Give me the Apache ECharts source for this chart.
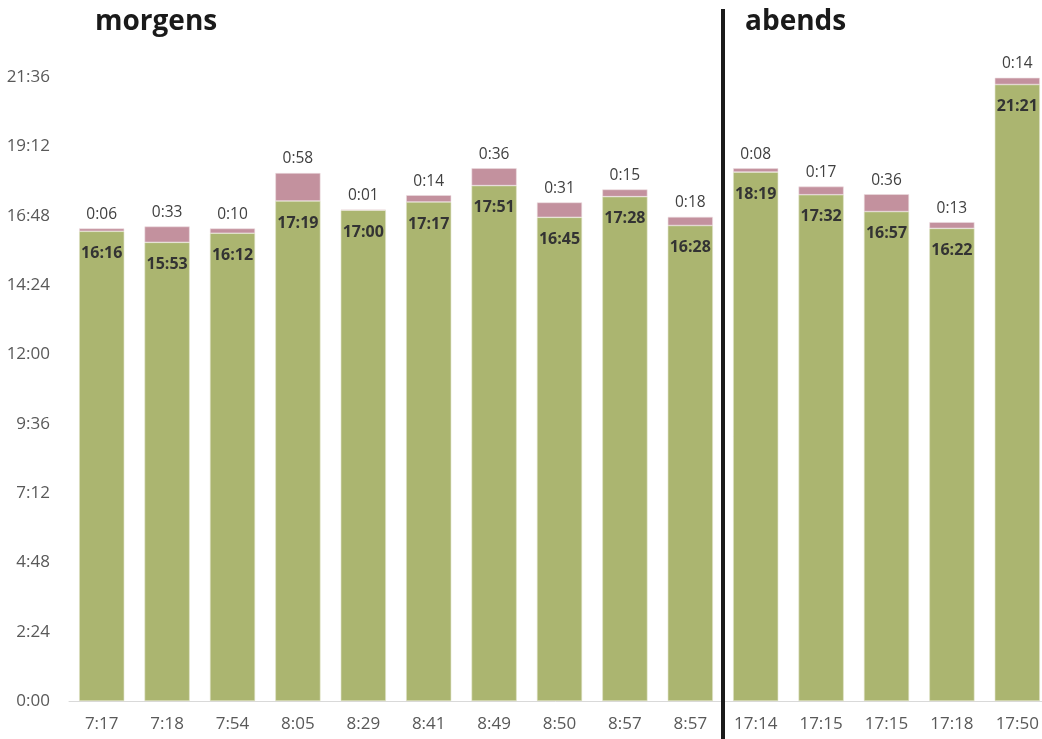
<!DOCTYPE html>
<html>
<head>
<meta charset="utf-8">
<script src="https://cdn.jsdelivr.net/npm/echarts@6/dist/echarts.min.js"></script>
<style>
  html, body { margin: 0; padding: 0; background: #fff; }
  #chart { width: 1042px; height: 739px; }
</style>
</head>
<body>
<div id="chart"></div>
<script>
// departure times (x axis)
const categories = ['7:17', '7:18', '7:54', '8:05', '8:29', '8:41', '8:49', '8:50', '8:57', '8:57',
                    '17:14', '17:15', '17:15', '17:18', '17:50']
// base duration (green) and extra (pink), as m:ss
const baseTimes  = ['16:16', '15:53', '16:12', '17:19', '17:00', '17:17', '17:51', '16:45', '17:28', '16:28',
                    '18:19', '17:32', '16:57', '16:22', '21:21']
const extraTimes = ['0:06', '0:33', '0:10', '0:58', '0:01', '0:14', '0:36', '0:31', '0:15', '0:18',
                    '0:08', '0:17', '0:36', '0:13', '0:14']
const morningCount = 10

const toSec = (s) => { const [m, ss] = s.split(':').map(Number); return m * 60 + ss }
const fmt = (v) => Math.floor(v / 60) + ':' + String(Math.round(v % 60)).padStart(2, '0')

const base = baseTimes.map(toSec)
const extra = extraTimes.map(toSec)

const green = '#abb570', pink = '#c3919e'
const font = 'Open Sans, sans-serif'

const chart = echarts.init(document.getElementById('chart'), null, { renderer: 'canvas' })
chart.setOption({
  animation: false,
  textStyle: { fontFamily: font },
  title: [
    { text: 'morgens', left: 90, top: 3, textStyle: { fontFamily: font, fontSize: 28, fontWeight: 'bold', color: '#1a1a1a' } },
    { text: 'abends', left: 740, top: 3, textStyle: { fontFamily: font, fontSize: 28, fontWeight: 'bold', color: '#1a1a1a' } },
  ],
  // plot runs a little past the right edge of the canvas, like the original crop
  grid: { left: 69, width: 981, top: 8, bottom: 38, outerBoundsMode: 'none' },
  xAxis: {
    type: 'category', data: categories,
    axisLine: { lineStyle: { color: '#d9d9d9', width: 1 } },
    axisTick: { show: false },
    axisLabel: { color: '#595959', fontSize: 17, margin: 15, fontFamily: font },
  },
  yAxis: {
    type: 'value', min: 0, max: 1440, interval: 144,
    axisLine: { show: false }, axisTick: { show: false }, splitLine: { show: false },
    axisLabel: { color: '#595959', fontSize: 17, margin: 19, fontFamily: font, showMaxLabel: false, formatter: fmt },
  },
  series: [
    {
      name: 'base', type: 'bar', stack: 't', data: base, barWidth: '69%',
      itemStyle: { color: green, borderColor: '#dfe3c6', borderWidth: 0.6 },
      label: { show: true, position: 'insideTop', distance: 14, color: '#333', fontWeight: 'bold', fontSize: 16,
        fontFamily: font, formatter: (p) => fmt(p.value) },
    },
    {
      name: 'extra', type: 'bar', stack: 't', data: extra, barWidth: '69%',
      itemStyle: { color: pink, borderColor: '#ecdde1', borderWidth: 0.6 },
      label: { show: true, position: 'top', distance: 6, color: '#404040', fontSize: 15.5,
        fontFamily: font, formatter: (p) => fmt(p.value) },
    },
  ],
})

// divider between morning and evening trips
const xa = chart.convertToPixel({ xAxisIndex: 0 }, morningCount - 1)
const xb = chart.convertToPixel({ xAxisIndex: 0 }, morningCount)
const xm = Math.round((xa + xb) / 2)
chart.setOption({
  graphic: [{
    type: 'line', shape: { x1: xm, y1: 9, x2: xm, y2: 739 },
    style: { stroke: '#1a1a1a', lineWidth: 4 }, z: 10,
  }],
})
</script>
</body>
</html>
